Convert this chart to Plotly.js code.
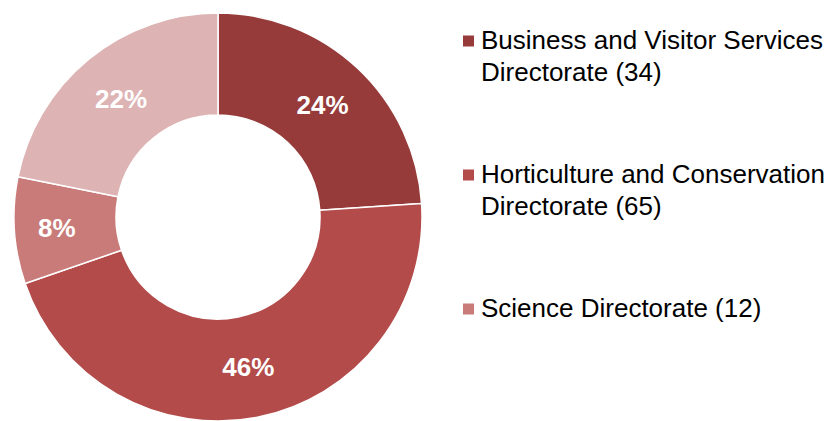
<!DOCTYPE html>
<html>
<head>
<meta charset="utf-8">
<script src="https://cdn.plot.ly/plotly-3.0.1.min.js"></script>
<style>
  html, body { margin: 0; padding: 0; background: #ffffff; }
  #chart { width: 835px; height: 421px; }
</style>
</head>
<body>
<div id="chart"></div>
<script>
// ---- data ----
var categories = [
  "Business and Visitor Services<br>Directorate (34)",
  "Horticulture and Conservation<br>Directorate (65)",
  "Science Directorate (12)",
  "Other Directorates (31)"
];
var staffCounts = [34, 65, 12, 31];
var sliceColors = ["#963B3A", "#B24B49", "#C97B7A", "#DDB3B3"];
var legendShown = 3; // only the first three legend entries are visible in the frame

// ---- layout helpers (pixel -> paper) ----
var W = 835, H = 421;
function px(x) { return x / W; }
function py(y) { return (H - y) / H; }

var cx = 218, cy = 217, R = 204;

var trace = {
  type: "pie",
  labels: categories,
  values: staffCounts,
  sort: false,
  direction: "clockwise",
  rotation: 0,
  hole: 0.5,
  marker: { colors: sliceColors, line: { color: "#ffffff", width: 1.5 } },
  texttemplate: "%{percent:.0%}",
  textposition: "inside",
  insidetextorientation: "horizontal",
  textfont: { family: "Liberation Sans, Arial, sans-serif", size: 26, color: "#ffffff", weight: "bold" },
  hoverinfo: "label+value+percent",
  showlegend: false,
  domain: { x: [px(cx - R), px(cx + R)], y: [py(cy + R), py(cy - R)] }
};

var annotations = [];
var shapes = [];
var entryTop = 40, entryStep = 134, lineStep = 32;
for (var i = 0; i < legendShown; i++) {
  var lines = categories[i].split("<br>");
  var c = entryTop + i * entryStep;
  for (var j = 0; j < lines.length; j++) {
    annotations.push({
      xref: "paper", yref: "paper",
      x: px(479), y: py(c + j * lineStep),
      xanchor: "left", yanchor: "middle",
      text: lines[j], showarrow: false,
      font: { family: "Liberation Sans, Arial, sans-serif", size: 26, color: "#000000" }
    });
  }
  shapes.push({
    type: "rect", xref: "paper", yref: "paper",
    x0: px(463), x1: px(474), y0: py(c + 1 + 5.5), y1: py(c + 1 - 5.5),
    fillcolor: sliceColors[i], line: { width: 0 }
  });
}

var layout = {
  width: W, height: H,
  margin: { l: 0, r: 0, t: 0, b: 0 },
  paper_bgcolor: "#ffffff",
  showlegend: false,
  uniformtext: { mode: "show", minsize: 26 },
  annotations: annotations,
  shapes: shapes
};

Plotly.newPlot("chart", [trace], layout, { displayModeBar: false, staticPlot: true });
</script>
</body>
</html>
